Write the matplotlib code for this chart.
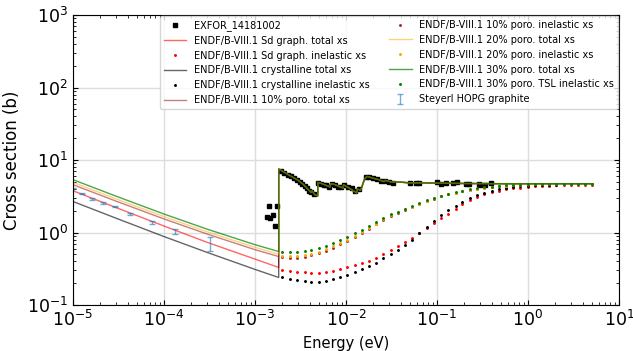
import matplotlib
matplotlib.use('Agg')
from matplotlib import pyplot as plt

# total xs below the Bragg cut-off (eV, b)
e_low = [1e-5, 3e-5, 1e-4, 3e-4, 1e-3, 1.82e-3]
sd_tot_low = [3.77, 2.20, 1.23, 0.73, 0.43, 0.33]
cryst_tot_low = [2.68, 1.57, 0.88, 0.53, 0.31, 0.24]
p10_tot_low = [4.57, 2.70, 1.54, 0.95, 0.58, 0.466]
p20_tot_low = [4.92, 2.90, 1.66, 1.02, 0.625, 0.50]
p30_tot_low = [5.36, 3.16, 1.80, 1.11, 0.68, 0.547]

# total xs above the cut-off (Bragg edges), same for all materials
e_high = [1.82e-3, 2.0e-3, 2.32e-3, 2.6e-3, 2.99e-3, 3.4e-3, 3.86e-3, 4.12e-3,
          4.2e-3, 4.56e-3, 4.88e-3, 4.9e-3, 5.5e-3, 6.67e-3, 6.8e-3, 7.5e-3,
          8.3e-3, 9.3e-3, 9.4e-3, 1.1e-2, 1.31e-2, 1.33e-2, 1.45e-2, 1.6e-2,
          1.7e-2, 2.0e-2, 2.3e-2, 2.6e-2, 2.7e-2, 3.1e-2, 4.0e-2, 5.0e-2,
          7.0e-2, 0.1, 0.2, 0.5, 1.0, 5.0]
tot_high = [7.5, 7.05, 6.28, 5.8, 5.24, 4.6, 3.9, 3.57,
            3.78, 3.32, 3.2, 4.92, 4.7, 4.25, 4.72, 4.6,
            4.35, 4.11, 4.57, 4.05, 3.51, 3.98, 3.85, 5.5,
            5.95, 5.6, 5.35, 5.05, 5.25, 5.0, 4.95, 4.85,
            4.85, 4.80, 4.75, 4.72, 4.72, 4.72]

# inelastic xs
e_inel = [2.0e-3, 2.4e-3, 2.9e-3, 3.5e-3, 4.1e-3, 5.0e-3, 6.0e-3, 7.2e-3, 8.6e-3,
          0.0103, 0.0124, 0.0149, 0.0179, 0.0215, 0.0258, 0.031, 0.037, 0.0445,
          0.053, 0.064, 0.077, 0.092, 0.11, 0.133, 0.16, 0.19, 0.23, 0.275, 0.33,
          0.4, 0.48, 0.57, 0.69, 0.82, 0.99, 1.19, 1.42, 1.71, 2.05, 2.46, 2.95,
          3.54, 4.25, 5.0]
sd_inel = [0.305, 0.295, 0.287, 0.282, 0.28, 0.28, 0.285, 0.295, 0.31, 0.33,
           0.36, 0.385, 0.41, 0.45, 0.51, 0.58, 0.65, 0.74, 0.84, 0.98, 1.14,
           1.36, 1.58, 1.82, 2.12, 2.45, 2.78, 3.08, 3.35, 3.58, 3.78, 3.94,
           4.07, 4.16, 4.25, 4.32, 4.38, 4.42, 4.46, 4.49, 4.52, 4.54, 4.56, 4.57]
cryst_inel = [0.24, 0.228, 0.22, 0.213, 0.21, 0.21, 0.215, 0.225, 0.24, 0.26,
              0.285, 0.315, 0.345, 0.385, 0.44, 0.50, 0.58, 0.68, 0.80, 0.99,
              1.20, 1.45, 1.72, 2.02, 2.34, 2.67, 3.0, 3.30, 3.56, 3.78, 3.96,
              4.11, 4.23, 4.32, 4.40, 4.46, 4.51, 4.55, 4.58, 4.61, 4.63, 4.64,
              4.65, 4.66]
p10_inel = [0.455, 0.448, 0.447, 0.46, 0.485, 0.52, 0.565, 0.62, 0.685, 0.775,
            0.875, 0.99, 1.13, 1.30, 1.50, 1.69, 1.87, 2.05, 2.22, 2.47, 2.72,
            2.93, 3.15, 3.36, 3.54, 3.72, 3.88, 4.02, 4.15, 4.26, 4.36, 4.44,
            4.50, 4.55, 4.59, 4.62, 4.64, 4.66, 4.67, 4.68, 4.69, 4.70, 4.70, 4.71]
p20_inel = [0.48, 0.473, 0.472, 0.485, 0.51, 0.545, 0.59, 0.645, 0.71, 0.80,
            0.90, 1.02, 1.16, 1.33, 1.53, 1.72, 1.90, 2.08, 2.25, 2.50, 2.75,
            2.95, 3.17, 3.38, 3.56, 3.74, 3.90, 4.04, 4.16, 4.27, 4.37, 4.45,
            4.51, 4.56, 4.60, 4.63, 4.65, 4.67, 4.68, 4.69, 4.70, 4.70, 4.71, 4.71]
p30_inel = [0.545, 0.538, 0.537, 0.55, 0.575, 0.61, 0.655, 0.71, 0.78, 0.88,
            0.98, 1.10, 1.24, 1.40, 1.60, 1.78, 1.95, 2.13, 2.30, 2.55, 2.80,
            3.0, 3.22, 3.42, 3.60, 3.78, 3.94, 4.08, 4.20, 4.31, 4.40, 4.48,
            4.54, 4.59, 4.63, 4.66, 4.68, 4.69, 4.70, 4.71, 4.71, 4.72, 4.72, 4.72]

# EXFOR 14181002
exfor_e = [1.35e-3, 1.42e-3, 1.46e-3, 1.59e-3, 1.66e-3, 1.73e-3,
           1.95e-3, 2.1e-3, 2.3e-3, 2.5e-3, 2.7e-3, 2.9e-3, 3.1e-3, 3.3e-3,
           3.5e-3, 3.7e-3, 3.9e-3, 4.1e-3, 4.4e-3, 4.95e-3, 5.3e-3, 5.7e-3,
           6.1e-3, 6.5e-3, 7.0e-3, 7.6e-3, 8.2e-3, 8.9e-3, 9.6e-3, 1.05e-2,
           1.15e-2, 1.25e-2, 1.4e-2, 1.65e-2, 1.8e-2, 2.0e-2, 2.2e-2, 2.4e-2,
           2.7e-2, 3.0e-2, 3.3e-2, 5.0e-2, 5.8e-2, 6.4e-2, 0.1, 0.11, 0.125,
           0.15, 0.165, 0.21, 0.225, 0.29, 0.3, 0.34, 0.39]
exfor_xs = [1.66, 2.34, 1.58, 1.76, 1.24, 2.29,
            7.1, 6.7, 6.3, 6.0, 5.6, 5.3, 5.0, 4.7,
            4.4, 4.1, 3.8, 3.6, 3.4, 4.8, 4.6, 4.5,
            4.5, 4.3, 4.6, 4.5, 4.3, 4.2, 4.5, 4.3,
            4.1, 3.7, 4.0, 5.8, 5.9, 5.7, 5.5, 5.2,
            5.1, 5.0, 4.9, 4.9, 4.8, 4.85, 4.95, 4.6, 4.9,
            4.9, 5.0, 4.7, 4.7, 4.7, 4.5, 4.5, 4.8]

# Steyerl HOPG graphite
stey_e = [1.0e-5, 1.25e-5, 1.6e-5, 2.15e-5, 2.9e-5, 4.2e-5, 7.3e-5, 1.32e-4, 3.2e-4]
stey_xs = [4.02, 3.43, 2.90, 2.55, 2.29, 1.80, 1.37, 1.03, 0.713]
stey_err = [0.08, 0.07, 0.06, 0.06, 0.06, 0.06, 0.07, 0.09, 0.16]


fig, ax = plt.subplots(figsize=(6.33, 3.51), dpi=100)
fig.subplots_adjust(left=0.1153, right=0.978, top=0.957, bottom=0.131)

ms = 2.2
ax.plot(exfor_e, exfor_xs, 's', color='k', markersize=3.3, label='EXFOR_14181002')
ax.plot(e_low + e_high, sd_tot_low + tot_high, color='red', alpha=0.6, lw=1,
        label='ENDF/B-VIII.1 Sd graph. total xs')
ax.plot(e_inel, sd_inel, '.', color='red', markersize=ms,
        label='ENDF/B-VIII.1 Sd graph. inelastic xs')
ax.plot(e_low + e_high, cryst_tot_low + tot_high, color='k', alpha=0.6, lw=1,
        label='ENDF/B-VIII.1 crystalline total xs')
ax.plot(e_inel, cryst_inel, '.', color='k', markersize=ms,
        label='ENDF/B-VIII.1 crystalline inelastic xs')
ax.plot(e_low + e_high, p10_tot_low + tot_high, color='brown', alpha=0.6, lw=1,
        label='ENDF/B-VIII.1 10% poro. total xs')
ax.plot(e_inel, p10_inel, '.', color='brown', markersize=ms,
        label='ENDF/B-VIII.1 10% poro. inelastic xs')
ax.plot(e_low + e_high, p20_tot_low + tot_high, color='orange', alpha=0.5, lw=1,
        label='ENDF/B-VIII.1 20% poro. total xs')
ax.plot(e_inel, p20_inel, '.', color='orange', markersize=ms,
        label='ENDF/B-VIII.1 20% poro. inelastic xs')
ax.plot(e_low + e_high, p30_tot_low + tot_high, color='green', alpha=0.7, lw=1,
        label='ENDF/B-VIII.1 30% poro. total xs')
ax.plot(e_inel, p30_inel, '.', color='green', markersize=ms,
        label='ENDF/B-VIII.1 30% poro. TSL inelastic xs')
ax.errorbar(stey_e, stey_xs, yerr=stey_err, fmt='none', ecolor='#1f77b4',
            alpha=0.6, capsize=2, elinewidth=1, label='Steyerl HOPG graphite')

ax.set_xscale('log')
ax.set_yscale('log')
ax.set_xlim(1e-5, 10)
ax.set_ylim(0.1, 1000)
ax.set_xlabel('Energy (eV)', fontsize=10.5)
ax.set_ylabel('Cross section (b)', fontsize=12)
ax.tick_params(which='both', direction='in', top=True, right=True, labelsize=12.5)
ax.grid(True, which='major', color='#dddddd', lw=1)

ax.legend(ncol=2, loc='upper right', fontsize=7, numpoints=1, handlelength=2.3,
          borderaxespad=0.1, framealpha=0.8)

fig.savefig('out.png', dpi=100)
